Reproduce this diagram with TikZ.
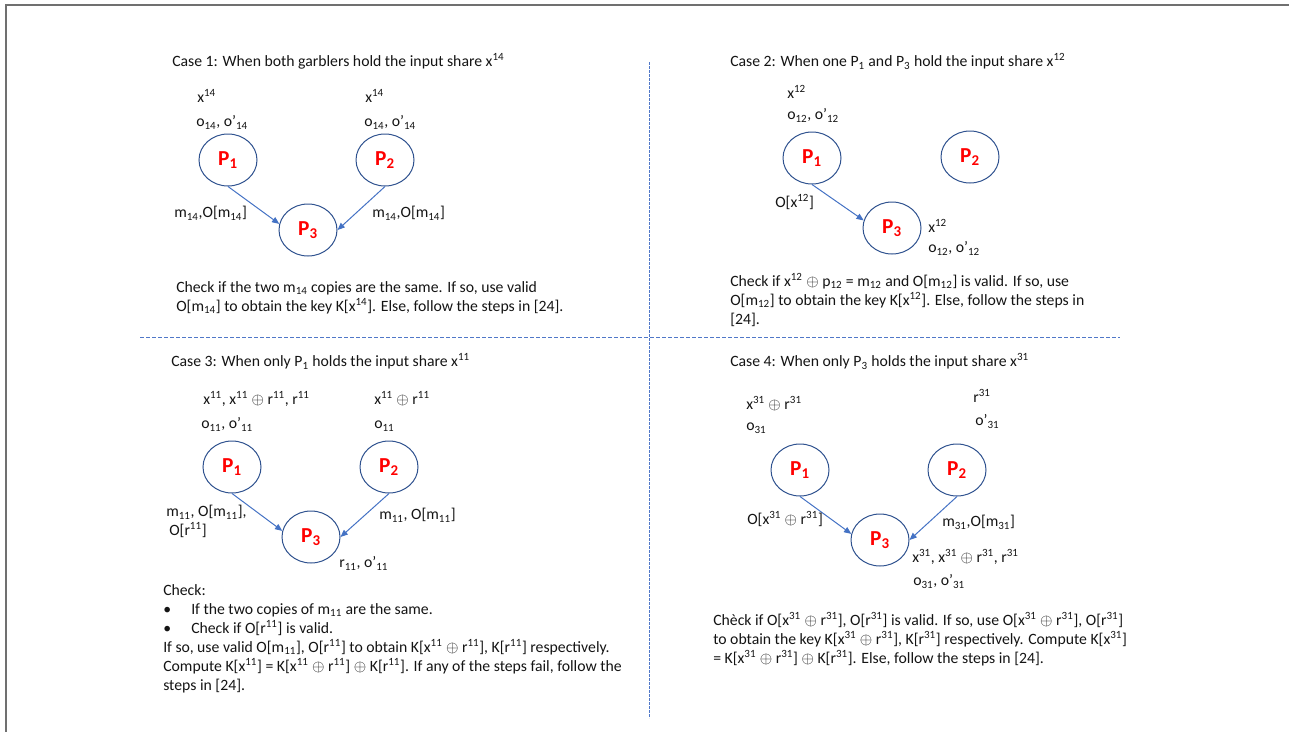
\documentclass[tikz,border=0pt]{standalone}
\usepackage{fontspec}
\setmainfont{Carlito}
\usepackage{xcolor}
\usepackage{tikz}
\usetikzlibrary{positioning, arrows.meta, shapes.geometric}
\definecolor{outline}  {RGB}{47,  82, 143}
\definecolor{msgblue}  {RGB}{68, 114, 196}
\definecolor{divider}  {RGB}{80, 120, 200}
\definecolor{framegray}{RGB}{112, 112, 112}
\definecolor{bodytext} {RGB}{20,  20,  20}
\definecolor{partyred} {RGB}{255,  0,   0}

\newcommand{\sbs}[1]{\textsubscript{#1}}
\newcommand{\sps}[1]{\textsuperscript{#1}}
\newcommand{\xor}{$\oplus$}

\tikzset{
  party/.style={ellipse, draw=outline, line width=0.75pt, inner sep=0pt,
    minimum width=43.5pt, minimum height=39pt, text=partyred,
    font=\fontsize{16}{19}\selectfont\bfseries},
  msg/.style={draw=msgblue, line width=0.75pt,
    -{Triangle[length=5.5pt, width=4.5pt]}},
  lbl/.style={anchor=west, inner sep=0pt, text=bodytext,
    font=\fontsize{11.8}{14.25}\selectfont, text height=8.5pt, text depth=3pt},
  % placed at the baseline of the last line
  para/.style={anchor=base west, inner sep=0pt, align=left, text=bodytext,
    font=\fontsize{11.8}{14.25}\selectfont},
  split/.style={draw=divider, line width=0.75pt},
}

\begin{document}
\begin{tikzpicture}[x=0.75pt, y=-0.75pt]
  \useasboundingbox (0,0) rectangle (1289,732);
  % frame and quadrant dividers
  \draw[framegray, line width=1.5pt] (1289,5) -- (6,5) -- (6,732);
  \draw[split, dash pattern=on 3pt off 1.5pt] (140,337) -- (1120,337);
  \draw[split, dash pattern=on 2pt off 1pt] (649,62) -- (649,718);

  % case 1
  \node[lbl] (c1title) at (172,63)
       {Case 1: When both garblers hold the input share x\sps{14}};
  \node[lbl] (c1in1) at (197,99) {x\sps{14}};
  \node[lbl] (c1out1) at (196,123) {o\sbs{14}, o’\sbs{14}};
  \node[lbl] (c1in2) at (365,99) {x\sps{14}};
  \node[lbl] (c1out2) at (364,123) {o\sbs{14}, o’\sbs{14}};
  \node[party] (c1p1) at (228,160) {P\sbs{1}};
  \node[party] (c1p2) at (385,160) {P\sbs{2}};
  \node[party] (c1p3) at (308,230) {P\sbs{3}};
  \draw[msg] (c1p1.south) -- (c1p3.168);
  \draw[msg] (c1p2.south) -- (c1p3.east);
  \node[lbl] (c1m1) at (174,214) {m\sbs{14},O[m\sbs{14}]};
  \node[lbl] (c1m2) at (372,214) {m\sbs{14},O[m\sbs{14}]};
  \node[para] (c1check) at (176,311)
       {Check if the two m\sbs{14} copies are the same. If so, use valid\\
        O[m\sbs{14}] to obtain the key K[x\sps{14}]. Else, follow the steps in [24].};

  % case 2
  \node[lbl] (c2title) at (730,63)
       {Case 2: When one P\sbs{1} and P\sbs{3} hold the input share x\sps{12}};
  \node[lbl] (c2in1) at (787,95) {x\sps{12}};
  \node[lbl] (c2out1) at (787,116) {o\sbs{12}, o’\sbs{12}};
  \node[party] (c2p1) at (812,158) {P\sbs{1}};
  \node[party] (c2p2) at (970,157) {P\sbs{2}};
  \node[party] (c2p3) at (892,228) {P\sbs{3}};
  \draw[msg] (c2p1.south) -- (c2p3.165);
  \node[lbl] (c2m1) at (775,204) {O[x\sps{12}]};
  \node[lbl] (c2in3) at (928,229) {x\sps{12}};
  \node[lbl] (c2out3) at (928,249) {o\sbs{12}, o’\sbs{12}};
  \node[para] (c2check) at (730,324)
       {Check if x\sps{12} \xor{} p\sbs{12} = m\sbs{12} and O[m\sbs{12}] is valid. If so, use\\
        O[m\sbs{12}] to obtain the key K[x\sps{12}]. Else, follow the steps in\\
        {[24].}};

  % case 3
  \node[lbl] (c3title) at (171,363)
       {Case 3: When only P\sbs{1} holds the input share x\sps{11}};
  \node[lbl] (c3in1) at (203,401) {x\sps{11}, x\sps{11} \xor{} r\sps{11}, r\sps{11}};
  \node[lbl] (c3out1) at (201,425) {o\sbs{11}, o’\sbs{11}};
  \node[lbl] (c3in2) at (374,401) {x\sps{11} \xor{} r\sps{11}};
  \node[lbl] (c3out2) at (374,425) {o\sbs{11}};
  \node[party] (c3p1) at (232,467) {P\sbs{1}};
  \node[party] (c3p2) at (389,467) {P\sbs{2}};
  \node[party] (c3p3) at (311,537) {P\sbs{3}};
  \draw[msg] (c3p1.south) -- (c3p3.168);
  \draw[msg] (c3p2.south) -- (c3p3.east);
  \node[lbl] (c3m1) at (166,513) {m\sbs{11}, O[m\sbs{11}],};
  \node[lbl] (c3m1b) at (169,532) {O[r\sps{11}]};
  \node[lbl] (c3m2) at (379,516) {m\sbs{11}, O[m\sbs{11}]};
  \node[lbl] (c3out3) at (339,564) {r\sbs{11}, o’\sbs{11}};
  \node[para] (c3check) at (163,690)
       {Check:\\
        \makebox[21pt][l]{•}If the two copies of m\sbs{11} are the same.\\
        \makebox[21pt][l]{•}Check if O[r\sps{11}] is valid.\\
        If so, use valid O[m\sbs{11}], O[r\sps{11}] to obtain K[x\sps{11} \xor{} r\sps{11}], K[r\sps{11}] respectively.\\
        Compute K[x\sps{11}] = K[x\sps{11} \xor{} r\sps{11}] \xor{} K[r\sps{11}]. If any of the steps fail, follow the\\
        steps in [24].};

  % case 4
  \node[lbl] (c4title) at (730,363)
       {Case 4: When only P\sbs{3} holds the input share x\sps{31}};
  \node[lbl] (c4in1) at (746,406) {x\sps{31} \xor{} r\sps{31}};
  \node[lbl] (c4out1) at (746,427) {o\sbs{31}};
  \node[lbl] (c4in2) at (973,399) {r\sps{31}};
  \node[lbl] (c4out2) at (975,422) {o’\sbs{31}};
  \node[party] (c4p1) at (800,470) {P\sbs{1}};
  \node[party] (c4p2) at (957,470) {P\sbs{2}};
  \node[party] (c4p3) at (880,540) {P\sbs{3}};
  \draw[msg] (c4p1.south) -- (c4p3.168);
  \draw[msg] (c4p2.south) -- (c4p3.east);
  \node[lbl] (c4m1) at (747,521) {O[x\sps{31} \xor{} r\sps{31}]};
  \node[lbl] (c4m2) at (942,523) {m\sbs{31},O[m\sbs{31}]};
  \node[lbl] (c4in3) at (912,559) {x\sps{31}, x\sps{31} \xor{} r\sps{31}, r\sps{31}};
  \node[lbl] (c4out3) at (913,582) {o\sbs{31}, o’\sbs{31}};
  \node[para] (c4check) at (713,663)
       {Chèck if O[x\sps{31} \xor{} r\sps{31}], O[r\sps{31}] is valid. If so, use O[x\sps{31} \xor{} r\sps{31}], O[r\sps{31}]\\
        to obtain the key K[x\sps{31} \xor{} r\sps{31}], K[r\sps{31}] respectively. Compute K[x\sps{31}]\\
        = K[x\sps{31} \xor{} r\sps{31}] \xor{} K[r\sps{31}]. Else, follow the steps in [24].};
\end{tikzpicture}
\end{document}
